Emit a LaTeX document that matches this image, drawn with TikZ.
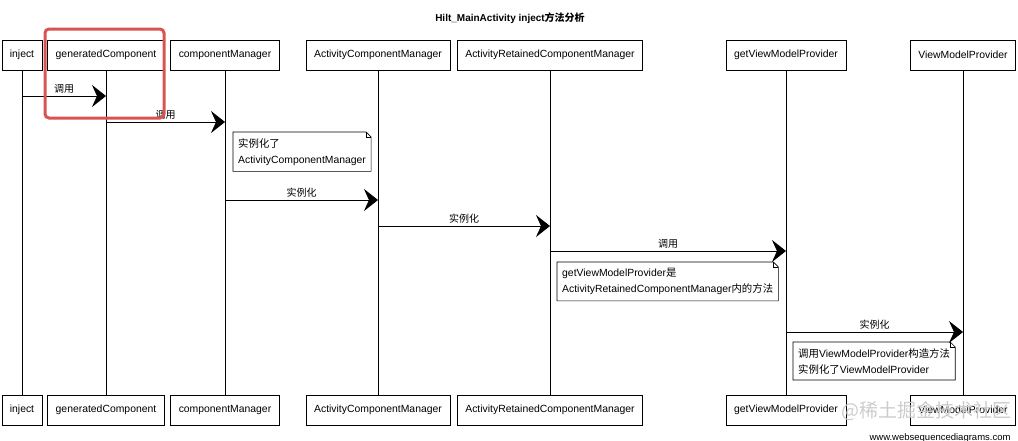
\documentclass[tikz,border=0pt]{standalone}
\usepackage{fontspec}
\setmainfont{Liberation Sans}
\newfontfamily\cjk{Noto Sans CJK SC}
\usetikzlibrary{arrows.meta}
\definecolor{hlred}{RGB}{217,84,80}

\begin{document}
\begin{tikzpicture}[x=1pt, y=-1pt,
    actor/.style={draw, line width=0.7pt, inner xsep=8pt, minimum height=30pt, font=\fontsize{10.4pt}{12pt}\selectfont},
    life/.style={line width=0.6pt},
    msg/.style={line width=0.8pt, -{Stealth[length=14pt, width=22pt, inset=5pt]}},
    lbl/.style={above, inner sep=2pt, font=\cjk\fontsize{10pt}{12pt}\selectfont},
    note/.style={anchor=north west, align=left, inner xsep=5pt, inner ysep=6pt, font=\fontsize{10.4pt}{16pt}\selectfont}]
    \clip (0,0) rectangle (1018,440);

    % Title
    \node[font=\bfseries\fontsize{10pt}{12pt}\selectfont] (title) at (510,18) {Hilt\_MainActivity inject{\cjk 方法分析}};

    % Participants, top and bottom, with lifelines
    \foreach \i/\x/\name in {1/22/inject, 2/106/generatedComponent, 3/225/componentManager,
        4/378/ActivityComponentManager, 5/550/ActivityRetainedComponentManager,
        6/786/getViewModelProvider, 7/963/ViewModelProvider} {
        \node[actor] (top\i) at (\x,55) {\name};
        \node[actor] (bot\i) at (\x,410) {\name};
        \draw[life] (top\i) -- (bot\i);
    }

    % Messages
    \draw[msg] (top1 |- 0,96) -- node[lbl] {调用} (top2 |- 0,96);
    \draw[msg] (top2 |- 0,122) -- node[lbl] {调用} (top3 |- 0,122);
    \draw[msg] (top3 |- 0,200) -- node[lbl] {实例化} (top4 |- 0,200);
    \draw[msg] (top4 |- 0,226) -- node[lbl] {实例化} (top5 |- 0,226);
    \draw[msg] (top5 |- 0,251) -- node[lbl] {调用} (top6 |- 0,251);
    \draw[msg] (top6 |- 0,332) -- node[lbl] {实例化} (top7 |- 0,332);

    % Notes
    \node[note] (n1) at (233,132) {{\cjk 实例化了}\\ActivityComponentManager};
    \node[note] (n2) at (557,262) {getViewModelProvider{\cjk 是}\\ActivityRetainedComponentManager{\cjk 内的方法}};
    \node[note] (n3) at (793,342) {{\cjk 调用}ViewModelProvider{\cjk 构造方法}\\{\cjk 实例化了}ViewModelProvider};
    \foreach \n in {n1,n2,n3} {
        \draw[line width=0.6pt] (\n.north west) -- ([xshift=-5pt]\n.north east) -- ([yshift=-5pt]\n.north east) -- (\n.south east) -- (\n.south west) -- cycle;
        \draw[line width=0.6pt] ([xshift=-5pt]\n.north east) |- ([yshift=-5pt]\n.north east);
    }

    % Highlight around generatedComponent
    \draw[hlred, line width=3pt, rounded corners=4pt] (45,29) rectangle (164,118);

    % Watermarks
    \node[anchor=west, text=gray!40, font=\cjk\fontsize{19pt}{20pt}\selectfont] (mark) at (838,411) {@稀土掘金技术社区};
    \node[anchor=west, font=\fontsize{9.5pt}{10pt}\selectfont] (site) at (866,438) {www.websequencediagrams.com};
\end{tikzpicture}
\end{document}
